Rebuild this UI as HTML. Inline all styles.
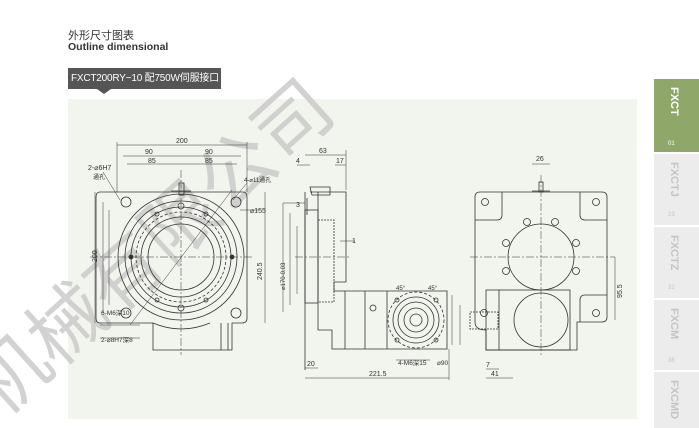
<!DOCTYPE html>
<html><head><meta charset="utf-8"><style>
body{margin:0;width:699px;height:428px;background:#fff;position:relative;overflow:hidden;font-family:"Liberation Sans","Noto Sans CJK SC",sans-serif}
.t1{position:absolute;left:68px;top:27px;font-size:11px;color:#333;font-family:"Liberation Sans","Noto Sans CJK SC",sans-serif}
.t2{position:absolute;left:68px;top:41px;font-size:10.5px;font-weight:bold;color:#333}
.tag{position:absolute;left:68px;top:68px;width:153px;height:21px;background:#555;color:#fff;font-size:10px;line-height:21px;padding-left:3px;box-sizing:border-box;white-space:nowrap;letter-spacing:-0.2px;overflow:hidden}
.tri{position:absolute;left:97px;top:89px;width:0;height:0;border-left:7px solid transparent;border-right:7px solid transparent;border-top:5px solid #555}
.panel{position:absolute;left:68px;top:99px;width:569px;height:320px;background:#f2f4ee}
.side{position:absolute;left:654px;width:45px;background:#ececec;color:#c4c4c4;font-weight:bold;font-size:11px}
.side span{position:absolute;left:14px;top:8px;writing-mode:vertical-rl}
.side i{position:absolute;left:14px;font-style:normal;font-size:6px;font-weight:normal}
</style></head><body>
<div class="t1">外形尺寸图表</div>
<div class="t2">Outline dimensional</div>
<div class="tag">FXCT200RY−10 配750W伺服接口</div>
<div class="tri"></div>
<div class="panel"></div>
<div class="side" style="top:79px;height:73px;background:#8fa86a;color:#fff"><span>FXCT</span><i style="top:62px">01</i></div>
<div class="side" style="top:154px;height:71px"><span>FXCTJ</span><i style="top:58px">23</i></div>
<div class="side" style="top:227px;height:71px"><span>FXCTZ</span><i style="top:58px">31</i></div>
<div class="side" style="top:300px;height:70px"><span>FXCM</span><i style="top:58px">36</i></div>
<div class="side" style="top:372px;height:56px"><span>FXCMD</span></div>
<svg style="position:absolute;left:0;top:0" width="699" height="428" viewBox="0 0 699 428">
<g font-family="Liberation Sans, Noto Sans CJK SC, sans-serif" font-size="76" fill="#c8c8c8" opacity="0.8">
<text x="0" y="420" transform="rotate(-42 0 420)">机械有限公司</text>
</g>
<g fill="none" stroke="#333" stroke-width="0.8">
<path d="M100 192 H243 Q247 192 247 197 V318 Q247 323 242 323 H232 V350 H153 V323 H100 Q96 323 96 318 V197 Q96 192 100 192Z"/>
<path d="M153 323 Q181 335 210 323"/>
<line x1="221" y1="323" x2="221" y2="350"/><line x1="228" y1="323" x2="228" y2="350"/>
<circle cx="181" cy="257" r="63"/><circle cx="181" cy="257" r="56"/><circle cx="181" cy="257" r="50"/>
<circle cx="181" cy="257" r="45" stroke-dasharray="3 2"/><circle cx="181" cy="257" r="40"/><circle cx="181" cy="257" r="33"/>
<circle cx="126" cy="202" r="5"/><circle cx="236" cy="202" r="5"/><circle cx="126" cy="313" r="5"/><circle cx="236" cy="313" r="5"/>
<circle cx="181" cy="206" r="3"/><circle cx="181" cy="308" r="3"/>
<circle cx="131" cy="257" r="2" fill="#333"/><circle cx="232" cy="257" r="2" fill="#333"/>
<circle cx="157" cy="214" r="2"/><circle cx="206" cy="214" r="2"/><circle cx="157" cy="300" r="2"/><circle cx="206" cy="300" r="2"/>
<rect x="179" y="183" width="5" height="12"/><line x1="171" y1="191" x2="191" y2="191"/>
<line x1="181" y1="170" x2="181" y2="355" stroke-dasharray="8 2 2 2" stroke-width="0.5"/>
<line x1="90" y1="257" x2="252" y2="257" stroke-dasharray="8 2 2 2" stroke-width="0.5"/>
<line x1="130" y1="325" x2="232" y2="190" stroke-width="0.5"/>
<g stroke-width="0.5">
<line x1="117" y1="145" x2="247" y2="145"/><line x1="117" y1="142" x2="117" y2="192"/><line x1="247" y1="142" x2="247" y2="192"/>
<line x1="123" y1="156" x2="241" y2="156"/><line x1="127" y1="164" x2="237" y2="164"/>
<line x1="95" y1="192" x2="95" y2="323"/><line x1="103" y1="202" x2="103" y2="313"/><line x1="109" y1="210" x2="109" y2="305"/>
<line x1="265" y1="192" x2="265" y2="323"/>
<line x1="103" y1="172" x2="120" y2="200"/><line x1="247" y1="183" x2="233" y2="200"/><line x1="240" y1="210" x2="260" y2="210"/>
<line x1="100" y1="325" x2="140" y2="325"/><line x1="100" y1="338" x2="140" y2="338"/>
</g>
<line x1="305" y1="192" x2="305" y2="370"/>
<path d="M307 198 V215 M310 192 H318 M318 192 V330 H332 V349 H447 V291 H334 V282 H346 V192 H318"/>
<rect x="305" y="210" width="13" height="93"/>
<path d="M310 187 H330 V195 H312Z"/>
<rect x="318" y="220" width="16" height="82" stroke-dasharray="2 1"/>
<line x1="345" y1="291" x2="345" y2="349"/><line x1="365" y1="291" x2="365" y2="349"/><line x1="387" y1="291" x2="387" y2="349"/>
<circle cx="373" cy="308" r="3"/>
<circle cx="416" cy="320" r="28" stroke-dasharray="3 2"/><circle cx="416" cy="320" r="23"/><circle cx="416" cy="320" r="18"/><circle cx="416" cy="320" r="12"/><circle cx="416" cy="320" r="6"/>
<circle cx="397" cy="300" r="2"/><circle cx="436" cy="300" r="2"/><circle cx="397" cy="340" r="2"/><circle cx="436" cy="340" r="2"/>
<line x1="295" y1="257" x2="350" y2="257" stroke-dasharray="8 2 2 2" stroke-width="0.5"/>
<g stroke-width="0.5">
<line x1="305" y1="155" x2="346" y2="155"/><line x1="346" y1="150" x2="346" y2="190"/>
<line x1="297" y1="165" x2="310" y2="165"/><line x1="335" y1="165" x2="346" y2="165"/>
<line x1="283" y1="203" x2="305" y2="203"/><line x1="283" y1="203" x2="283" y2="312"/>
<line x1="290" y1="213" x2="290" y2="305"/><line x1="297" y1="226" x2="297" y2="294"/>
<line x1="305" y1="378" x2="449" y2="378"/><line x1="305" y1="368" x2="318" y2="368"/><line x1="449" y1="349" x2="449" y2="380"/>
<line x1="396" y1="360" x2="430" y2="360"/><line x1="452" y1="295" x2="452" y2="345"/><line x1="460" y1="305" x2="460" y2="345"/>
<line x1="340" y1="241" x2="355" y2="241"/>
</g>
<path d="M480 192 H602 Q607 192 607 197 V317 Q607 322 602 322 H577 V350 H486 V330 Q475 330 475 322 V197 Q475 192 480 192Z"/>
<path d="M475 220 H497 Q502 220 502 215 V192 M607 220 H585 Q580 220 580 215 V192 M607 295 H585 Q580 295 580 300 V322"/>
<rect x="486" y="290" width="84" height="60"/><line x1="499" y1="290" x2="499" y2="350"/>
<rect x="470" y="312" width="28" height="17" stroke-dasharray="2 1"/>
<circle cx="541" cy="257" r="33"/><circle cx="541" cy="320" r="27"/>
<circle cx="485" cy="202" r="3.5"/><circle cx="596" cy="202" r="3.5"/><circle cx="596" cy="313" r="3.5"/><circle cx="484" cy="313" r="3.5"/>
<circle cx="527" cy="222" r="3.5"/><circle cx="555" cy="222" r="3.5"/><circle cx="506" cy="243" r="3.5"/><circle cx="576" cy="243" r="3.5"/><circle cx="506" cy="271" r="3.5"/><circle cx="576" cy="271" r="3.5"/>
<rect x="539" y="182" width="4" height="10"/><line x1="532" y1="191" x2="550" y2="191"/>
<line x1="541" y1="175" x2="541" y2="355" stroke-dasharray="8 2 2 2" stroke-width="0.5"/>
<line x1="470" y1="257" x2="615" y2="257" stroke-dasharray="8 2 2 2" stroke-width="0.5"/>
<g stroke-width="0.5"><line x1="532" y1="164" x2="550" y2="164"/><line x1="615" y1="257" x2="615" y2="320"/>
<line x1="486" y1="378" x2="513" y2="378"/><line x1="486" y1="369" x2="499" y2="369"/></g>
</g>
<g font-family="Liberation Sans, Noto Sans CJK SC, sans-serif" font-size="7" fill="#333">
<text x="176" y="143">200</text><text x="145" y="154">90</text><text x="205" y="154">90</text>
<text x="148" y="163">85</text><text x="205" y="163">85</text>
<text x="88" y="170">2-⌀6H7</text><text x="93" y="179" font-size="6">通孔</text><text x="244" y="182" font-size="6">4-⌀11通孔</text>
<text x="250" y="213">⌀155</text>
<text x="97" y="262" transform="rotate(-90 97 262)">200</text>
<text x="262" y="280" transform="rotate(-90 262 280)">240.5</text>
<text x="101" y="315" font-size="6.5">6-M6深10</text><text x="101" y="342" font-size="6.5">2-⌀8H7深8</text>
<text x="319" y="153">63</text><text x="296" y="163">4</text><text x="336" y="163">17</text><text x="296" y="207">3</text>
<text x="352" y="243">1</text><text x="369" y="376">221.5</text><text x="307" y="366">20</text>
<text x="398" y="365" font-size="6.5">4-M6深15</text><text x="437" y="365" font-size="6.5">⌀90</text>
<text x="396" y="290" font-size="6">45°</text><text x="428" y="290" font-size="6">45°</text>
<text x="285" y="290" transform="rotate(-90 285 290)" font-size="6">⌀170-0.03</text>
<text x="536" y="161">26</text><text x="622" y="298" transform="rotate(-90 622 298)">95.5</text>
<text x="491" y="376">41</text><text x="486" y="367">7</text>
</g>
</svg>
</body></html>
